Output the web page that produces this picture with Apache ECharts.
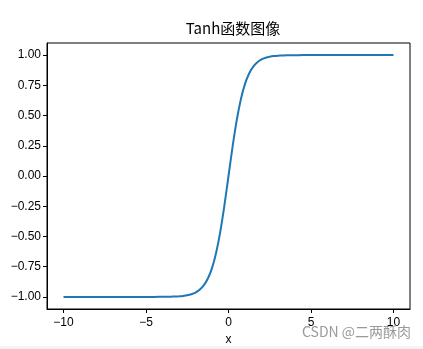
<!DOCTYPE html>
<html><head><meta charset="utf-8">
<script src="https://cdn.jsdelivr.net/npm/echarts@6/dist/echarts.min.js"></script>
<style>html,body{margin:0;padding:0;background:#fff}#c{width:423px;height:349px}</style>
</head><body><div id="c"></div>
<script>
const xValues = [-10,-9,-8,-7,-6,-5,-4.5,-4,-3.5,-3.25,-3,-2.75,-2.5,-2.25,-2,-1.75,-1.5,-1.25,-1,-0.75,-0.5,-0.25,0,0.25,0.5,0.75,1,1.25,1.5,1.75,2,2.25,2.5,2.75,3,3.25,3.5,4,4.5,5,6,7,8,9,10];
const yValues = [-1,-1,-1,-1,-1,-0.9999,-0.9998,-0.9993,-0.998,-0.997,-0.995,-0.992,-0.987,-0.978,-0.964,-0.941,-0.905,-0.848,-0.762,-0.635,-0.462,-0.245,0,0.245,0.462,0.635,0.762,0.848,0.905,0.941,0.964,0.978,0.987,0.992,0.995,0.997,0.998,0.9993,0.9998,0.9999,1,1,1,1,1];
const xTicks = [-10,-5,0,5,10];
const yTicks = [-1,-0.75,-0.5,-0.25,0,0.25,0.5,0.75,1];
const font = '"Liberation Sans", "Noto Sans CJK SC", sans-serif';
const cjk = '"Noto Sans CJK SC", "Liberation Sans", sans-serif';
const fmtMinus = s => String(s).replace('-', '\u2212');
const chart = echarts.init(document.getElementById('c'));
chart.setOption({
  animation:false,
  title:{text:'Tanh函数图像',left:228,top:16,textAlign:'center',textStyle:{fontFamily:cjk,fontSize:15,fontWeight:'normal',color:'#000'}},
  grid:{left:47,top:43,right:13,bottom:40,outerBoundsMode:'none',containLabel:false,show:true,borderColor:'#000',borderWidth:1,backgroundColor:'transparent'},
  graphic:[
    {type:'rect',shape:{x:0,y:346,width:423,height:3},style:{fill:'#f3f3f3'},z:-10},
    {type:'text',left:302,top:325,style:{text:'CSDN @二两酥肉',fill:'#9a9a9a',font:'14px '+cjk},z:100}
  ],
  xAxis:{type:'value',min:-11,max:11,name:'x',nameLocation:'middle',nameGap:25,
    nameTextStyle:{fontFamily:font,fontSize:12,color:'#000'},
    axisLine:{show:true,onZero:false,lineStyle:{color:'#000'}},
    axisTick:{show:true,length:4,customValues:xTicks,lineStyle:{color:'#000'}},
    axisLabel:{customValues:xTicks,fontFamily:font,fontSize:12,color:'#000',margin:8,formatter:v=>fmtMinus(v)},
    splitLine:{show:false}},
  yAxis:{type:'value',min:-1.1,max:1.1,
    axisLine:{show:true,onZero:false,lineStyle:{color:'#000'}},
    axisTick:{show:true,length:4,customValues:yTicks,lineStyle:{color:'#000'}},
    axisLabel:{customValues:yTicks,fontFamily:font,fontSize:12,color:'#000',margin:6,formatter:v=>fmtMinus(v.toFixed(2))},
    splitLine:{show:false}},
  series:[{type:'line',data:xValues.map((x,i)=>[x,yValues[i]]),smooth:0.2,showSymbol:false,lineStyle:{color:'#1f77b4',width:2}}]
});
</script></body></html>
